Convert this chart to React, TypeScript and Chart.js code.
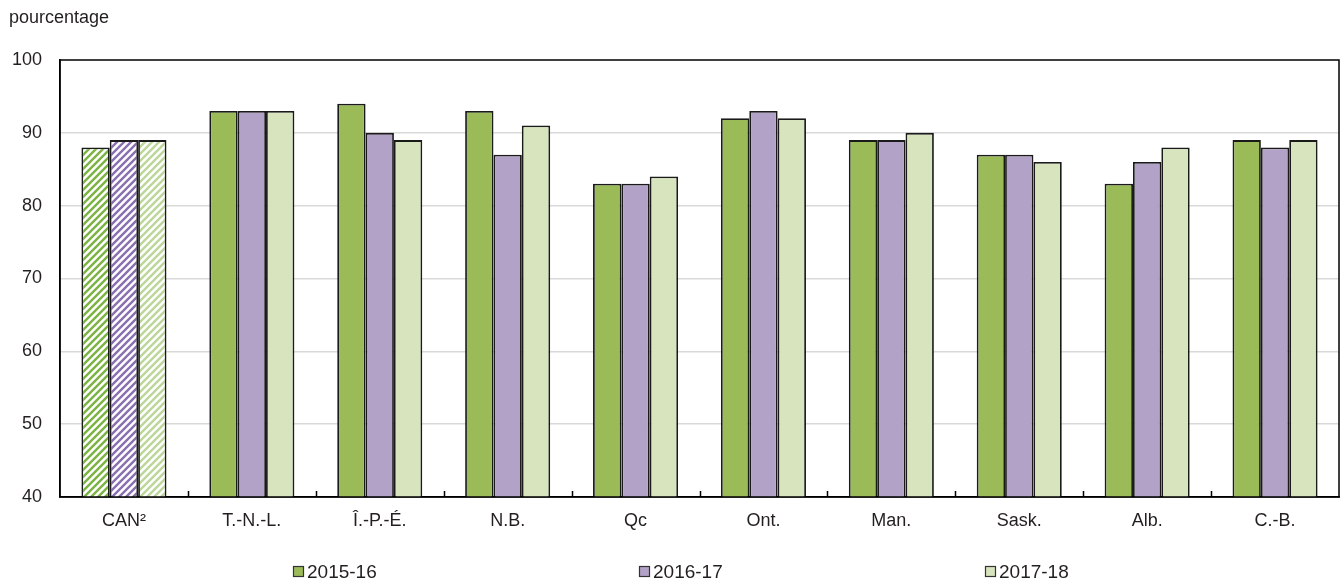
import React, { useEffect, useRef } from "react";
import { Chart, registerables } from "chart.js";

Chart.register(...registerables);

const categories = ["CAN²", "T.-N.-L.", "Î.-P.-É.", "N.B.", "Qc", "Ont.", "Man.", "Sask.", "Alb.", "C.-B."];
const series2015 = [88, 93, 94, 93, 83, 92, 89, 87, 83, 89];
const series2016 = [89, 93, 90, 87, 83, 93, 89, 87, 86, 88];
const series2017 = [89, 93, 89, 91, 84, 92, 90, 86, 88, 89];
const seriesLabels = ["2015-16", "2016-17", "2017-18"];
const seriesColors = ["#9BBB59", "#B3A2C7", "#D7E4BD"];
const hatchColors = ["#7DB343", "#8A70B0", "#BDD69A"];
const yTicks = [40, 50, 60, 70, 80, 90, 100];

const FONT = "'Liberation Sans', Arial, sans-serif";
const TEXT = "#231f20";

function makeHatch(color: string): CanvasPattern | string {
  const c = document.createElement("canvas");
  const s = 7;
  c.width = s;
  c.height = s;
  const ctx = c.getContext("2d");
  if (!ctx) return color;
  ctx.fillStyle = "#ffffff";
  ctx.fillRect(0, 0, s, s);
  ctx.strokeStyle = color;
  ctx.lineWidth = 2.4;
  ctx.beginPath();
  for (let k = -1; k <= 1; k++) {
    ctx.moveTo(k * s - 1, s + 1);
    ctx.lineTo(k * s + s + 1, -1);
  }
  ctx.stroke();
  const p = ctx.createPattern(c, "repeat");
  return p || color;
}

const decorPlugin = {
  id: "decor",
  beforeDatasetsDraw(chart: any) {
    const { ctx } = chart;
    ctx.save();
    ctx.font = `18px ${FONT}`;
    ctx.fillStyle = TEXT;
    ctx.textAlign = "left";
    ctx.textBaseline = "middle";
    ctx.fillText("pourcentage", 9, 18);
    ctx.restore();
  },
  afterDraw(chart: any) {
    const { ctx, chartArea } = chart;
    const xs = chart.scales.x;
    ctx.save();
    ctx.strokeStyle = "#000";
    ctx.lineWidth = 1.5;
    ctx.strokeRect(chartArea.left, chartArea.top, chartArea.right - chartArea.left, chartArea.bottom - chartArea.top);
    // category boundary tick marks (inside)
    ctx.beginPath();
    for (let i = 0; i < categories.length - 1; i++) {
      const bx = Math.round((xs.getPixelForValue(i) + xs.getPixelForValue(i + 1)) / 2) + 0.5;
      ctx.moveTo(bx, chartArea.bottom);
      ctx.lineTo(bx, chartArea.bottom - 6);
    }
    ctx.stroke();
    // legend
    const fracs = [0.2185, 0.4765, 0.7345];
    ctx.font = `19px ${FONT}`;
    ctx.textBaseline = "middle";
    ctx.textAlign = "left";
    const ly = 572;
    for (let i = 0; i < seriesLabels.length; i++) {
      const lx = Math.round(chart.width * fracs[i]);
      ctx.fillStyle = seriesColors[i];
      ctx.fillRect(lx + 0.5, ly - 5.5, 10, 10);
      ctx.strokeStyle = "#333";
      ctx.lineWidth = 1.2;
      ctx.strokeRect(lx + 0.5, ly - 5.5, 10, 10);
      ctx.fillStyle = TEXT;
      ctx.fillText(seriesLabels[i], lx + 14, ly + 0.5);
    }
    ctx.restore();
  },
};

export default function App() {
  const ref = useRef<HTMLCanvasElement>(null);

  useEffect(() => {
    document.body.style.margin = "0";
    const canvas = ref.current;
    if (!canvas) return;
    const seriesValues = [series2015, series2016, series2017];
    const datasets = seriesValues.map((vals, si) => ({
      label: seriesLabels[si],
      data: vals,
      backgroundColor: vals.map((_, ci) => (ci === 0 ? makeHatch(hatchColors[si]) : seriesColors[si])),
      borderColor: "#1a1a1a",
      borderWidth: 1.8,
      borderSkipped: "bottom" as const,
      categoryPercentage: 0.665,
      barPercentage: 1.0,
    }));

    const chart = new Chart(canvas, {
      type: "bar",
      data: { labels: categories, datasets },
      plugins: [decorPlugin],
      options: {
        animation: false,
        responsive: false,
        maintainAspectRatio: false,
        layout: { padding: { top: 60, right: 2, bottom: 0, left: 0 } },
        plugins: {
          legend: { display: false },
          tooltip: { enabled: false },
        },
        scales: {
          x: {
            offset: true,
            grid: { display: false, drawTicks: false },
            border: { display: true, color: "#000", width: 1.5 },
            ticks: {
              color: TEXT,
              font: { family: FONT, size: 18 },
              padding: 13,
              maxRotation: 0,
              autoSkip: false,
            },
            afterFit(scale: any) {
              scale.height = 86;
            },
          },
          y: {
            min: 40,
            max: 100,
            afterBuildTicks(scale: any) {
              scale.ticks = yTicks.map((v) => ({ value: v }));
            },
            grid: {
              color: (ctx: any) => (ctx.tick && (ctx.tick.value === 40 || ctx.tick.value === 100) ? "rgba(0,0,0,0)" : "#d9d9d9"),
              lineWidth: 1.5,
              drawTicks: false,
            },
            border: { display: true, color: "#000", width: 1.5 },
            ticks: {
              color: TEXT,
              font: { family: FONT, size: 18 },
              padding: 18,
            },
            afterFit(scale: any) {
              scale.width = 60;
            },
          },
        },
      },
    });
    return () => chart.destroy();
  }, []);

  return (
    <div style={{ width: 1341, height: 583 }}>
      <canvas ref={ref} width={1341} height={583} style={{ display: "block", width: 1341, height: 583 }} />
    </div>
  );
}
